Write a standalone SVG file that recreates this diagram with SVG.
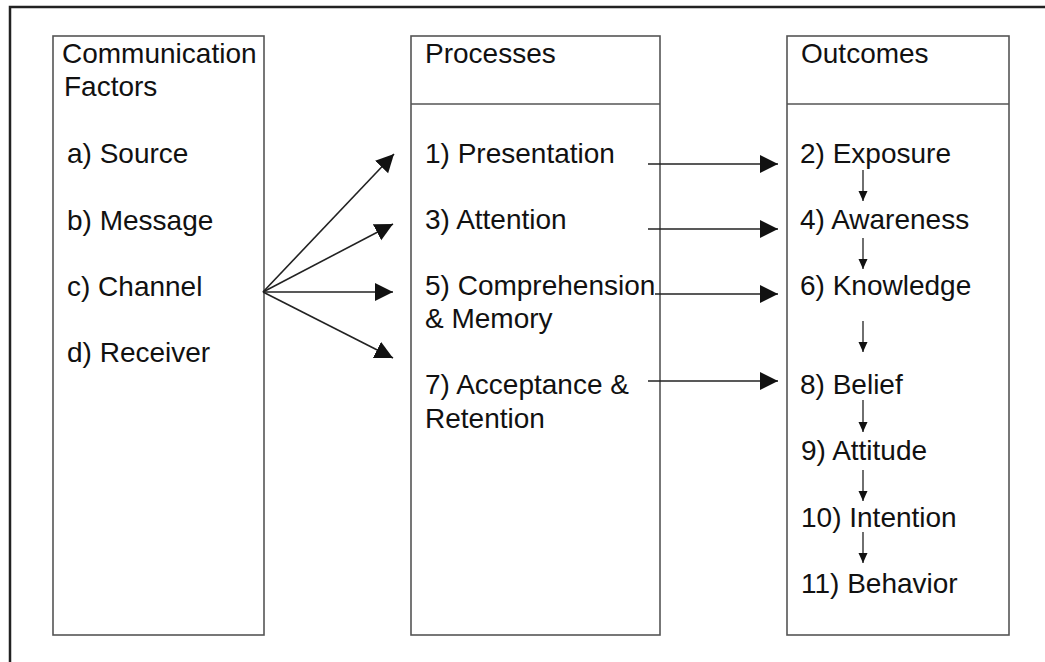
<svg xmlns="http://www.w3.org/2000/svg" width="1045" height="662" viewBox="0 0 1045 662">
<style>
.box{fill:#fff;stroke:#555;stroke-width:1.6}
.div{stroke:#555;stroke-width:1.6}
text{font-family:"Liberation Sans",Arial,sans-serif;font-size:28px;fill:#111}
.big{stroke:#222;stroke-width:1.6;fill:none;marker-end:url(#bigHead)}
.small{stroke:#222;stroke-width:1.3;fill:none;marker-end:url(#smallHead)}
</style>
<defs>
<marker id="bigHead" markerUnits="userSpaceOnUse" markerWidth="20" markerHeight="20" refX="18" refY="9" orient="auto">
<path d="M0,0 L18,9 L0,18 Z" fill="#111"/>
</marker>
<marker id="smallHead" markerUnits="userSpaceOnUse" markerWidth="12" markerHeight="12" refX="10" refY="4.5" orient="auto">
<path d="M0,0 L10,4.5 L0,9 Z" fill="#111"/>
</marker>
</defs>
<rect width="1045" height="662" fill="#fff"/>
<g id="frame">
<path d="M10,662 L10,7 L1045,7" fill="none" stroke="#222" stroke-width="2.5"/>
</g>
<g id="factors">
<rect class="box" x="53" y="36" width="211" height="599"/>
<text x="62" y="63">Communication</text>
<text x="64" y="96">Factors</text>
<text x="67" y="163">a) Source</text>
<text x="67" y="230">b) Message</text>
<text x="67" y="296">c) Channel</text>
<text x="67" y="362">d) Receiver</text>
</g>
<g id="processes">
<rect class="box" x="411" y="36" width="249" height="599"/>
<line class="div" x1="411" y1="104" x2="660" y2="104"/>
<text x="425" y="63">Processes</text>
<text x="425" y="163">1) Presentation</text>
<text x="425" y="229">3) Attention</text>
<text x="425" y="295">5) Comprehension</text>
<text x="425" y="328">&amp; Memory</text>
<text x="425" y="394">7) Acceptance &amp;</text>
<text x="425" y="428">Retention</text>
</g>
<g id="outcomes">
<rect class="box" x="787" y="36" width="222" height="599"/>
<line class="div" x1="787" y1="104" x2="1009" y2="104"/>
<text x="801" y="63">Outcomes</text>
<text x="800" y="163">2) Exposure</text>
<text x="800" y="229">4) Awareness</text>
<text x="800" y="295">6) Knowledge</text>
<text x="800" y="394">8) Belief</text>
<text x="801" y="460">9) Attitude</text>
<text x="801" y="527">10) Intention</text>
<text x="801" y="593">11) Behavior</text>
</g>
<g id="connectors">
<line class="big" x1="263" y1="292" x2="394" y2="154"/>
<line class="big" x1="263" y1="292" x2="393" y2="224"/>
<line class="big" x1="263" y1="292" x2="393" y2="292"/>
<line class="big" x1="263" y1="292" x2="393" y2="358"/>
<line class="big" x1="648" y1="164" x2="778" y2="164"/>
<line class="big" x1="648" y1="229" x2="778" y2="229"/>
<line class="big" x1="655" y1="294" x2="778" y2="294"/>
<line class="big" x1="648" y1="381" x2="778" y2="381"/>
<line class="small" x1="863" y1="170" x2="863" y2="201"/>
<line class="small" x1="863" y1="238" x2="863" y2="269"/>
<line class="small" x1="863" y1="321" x2="863" y2="352"/>
<line class="small" x1="863" y1="400" x2="863" y2="432"/>
<line class="small" x1="863" y1="470" x2="863" y2="501"/>
<line class="small" x1="863" y1="532" x2="863" y2="563"/>
</g>
</svg>
